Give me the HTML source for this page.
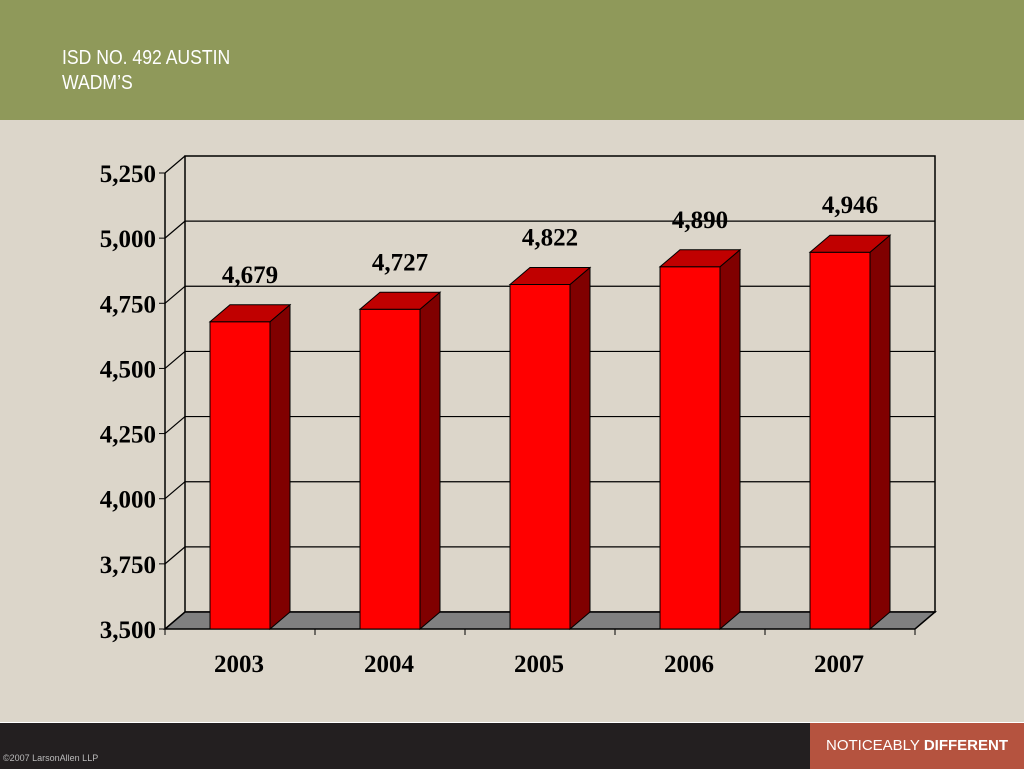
<!DOCTYPE html>
<html><head><meta charset="utf-8"><style>
body{margin:0;width:1024px;height:768px;background:#dcd6ca;position:relative;overflow:hidden;font-family:"Liberation Sans",sans-serif}
#hdr{position:absolute;left:0;top:0;width:1024px;height:120px;background:#8f995a}
#title{position:absolute;left:62px;top:46px;color:#fff;font-size:20px;line-height:25px;transform:scaleX(0.88);transform-origin:left}
#ftr{position:absolute;left:0;top:722px;width:1024px;height:46px;background:#231f20;border-top:1px solid #fff}
#nd{position:absolute;left:810px;top:0;width:214px;height:46px;background:#b5533f;color:#fff;font-size:15px;line-height:46px;text-align:center}
#copy{position:absolute;left:3px;top:30px;color:#bbb;font-size:9px}
</style></head><body>
<div id="hdr"><div id="title">ISD NO. 492 AUSTIN<br>WADM’S</div></div>
<svg id="chart" width="1024" height="768" style="position:absolute;left:0;top:0"></svg>
<div id="ftr"><div id="copy">©2007 LarsonAllen LLP</div><div id="nd">NOTICEABLY <b>DIFFERENT</b></div></div>
<script>
const categories=["2003","2004","2005","2006","2007"];
const values=[4679,4727,4822,4890,4946];
const valueLabels=["4,679","4,727","4,822","4,890","4,946"];
const ticks=[3500,3750,4000,4250,4500,4750,5000,5250];
const tickLabels=["3,500","3,750","4,000","4,250","4,500","4,750","5,000","5,250"];
const svg=document.getElementById('chart');
const NS='http://www.w3.org/2000/svg';
const X0=165,BASE=629,DX=20,DY=17,YMIN=3500,YMAX=5250,PH=456,CW=150,BW=60;
function y(v){return BASE-(v-YMIN)/(YMAX-YMIN)*PH;}
function xc(i){return X0+CW*i+CW/2;}
function el(t,a,txt){const e=document.createElementNS(NS,t);for(const k in a)e.setAttribute(k,a[k]);if(txt!==undefined)e.textContent=txt;svg.appendChild(e);return e;}
// back wall
let w=el('rect',{x:X0+DX,y:y(YMAX)-DY,width:CW*5,height:PH,fill:'none',stroke:'#000','stroke-width':1.5});


ticks.forEach((t,i)=>{
  if(i>0&&i<ticks.length-1){let g=el('line',{x1:X0+DX,x2:X0+DX+CW*5,y1:y(t)-DY,y2:y(t)-DY,stroke:'#000','stroke-width':1.2});
  
  }
  let d=el('line',{x1:X0,x2:X0+DX,y1:y(t),y2:y(t)-DY,stroke:'#000','stroke-width':1.2});
  
  
  let tk=el('line',{x1:X0-6,x2:X0,y1:y(t),y2:y(t),stroke:'#000'});
  
  
  let l=el('text',{x:X0-9,y:y(t)+9,'text-anchor':'end','font-family':'Liberation Serif,serif','font-weight':'bold','font-size':25},tickLabels[i]);
  
  
});
let ax=el('line',{x1:X0,x2:X0,y1:y(YMAX),y2:BASE,stroke:'#000','stroke-width':1.5});


let fl=el('polygon',{points:`${X0},${BASE} ${X0+CW*5},${BASE} ${X0+CW*5+DX},${BASE-DY} ${X0+DX},${BASE-DY}`,fill:'#808080',stroke:'#000','stroke-width':1.5});


for(let i=0;i<=5;i++){let t=el('line',{x1:X0+CW*i,x2:X0+CW*i,y1:BASE,y2:BASE+6,stroke:'#000'});

}
values.forEach((v,i)=>{
  const x=xc(i)-BW/2,yt=y(v);
  let g=document.createElementNS(NS,'g');svg.appendChild(g);
  
  
  [[`${x},${yt} ${x+BW},${yt} ${x+BW},${BASE} ${x},${BASE}`,'#ff0000'],
   [`${x+BW},${yt} ${x+BW+DX},${yt-DY} ${x+BW+DX},${BASE-DY} ${x+BW},${BASE}`,'#800000'],
   [`${x},${yt} ${x+DX},${yt-DY} ${x+BW+DX},${yt-DY} ${x+BW},${yt}`,'#c00000']].forEach(p=>{
    const e=document.createElementNS(NS,'polygon');e.setAttribute('points',p[0]);e.setAttribute('fill',p[1]);e.setAttribute('stroke','#000');e.setAttribute('stroke-width','1');g.appendChild(e);});
  let l=el('text',{x:xc(i)+10,y:yt-DY-22,'text-anchor':'middle','font-family':'Liberation Serif,serif','font-weight':'bold','font-size':25},valueLabels[i]);
  
  
  let c=el('text',{x:xc(i)-1,y:672,'text-anchor':'middle','font-family':'Liberation Serif,serif','font-weight':'bold','font-size':25},categories[i]);
  
  
});
</script>
</body></html>
